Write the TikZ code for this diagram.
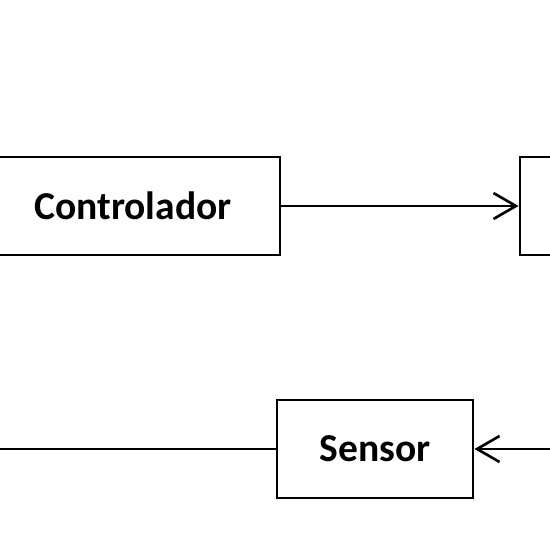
\documentclass[tikz,border=0pt]{standalone}
\usepackage{fontspec}
\setmainfont{Carlito}
\usetikzlibrary{arrows.meta}

\tikzset{
    blk/.style = {draw, line width=1.6pt, minimum height=1.96cm, font=\fontsize{22.5}{26}\selectfont\bfseries, inner sep=0pt},
    lnk/.style = {line width=1.4pt, -{Straight Barb[length=0.45cm, width=0.52cm, line width=1.5pt]}}
}

\begin{document}
\begin{tikzpicture}
        \useasboundingbox (0,0) rectangle (11,11);
        \clip (0,0) rectangle (11,11);

        \node [blk, minimum width=5.88cm] (ctrl) at (2.66,6.88) {Controlador};
        \node [blk, minimum width=5.88cm] (planta) at (13.34,6.88) {};
        \node [blk, minimum width=3.92cm] (sensor) at (7.5,2.02) {Sensor};

        \coordinate (saida) at (11.5,2.02);
        \coordinate (retorno) at (-0.5,2.02);

        \draw [lnk] (ctrl.east) -- (planta.west);
        \draw [lnk] (saida) -- (sensor.east);
        \draw [line width=1.4pt] (sensor.west) -- (retorno);

    \end{tikzpicture}
\end{document}
